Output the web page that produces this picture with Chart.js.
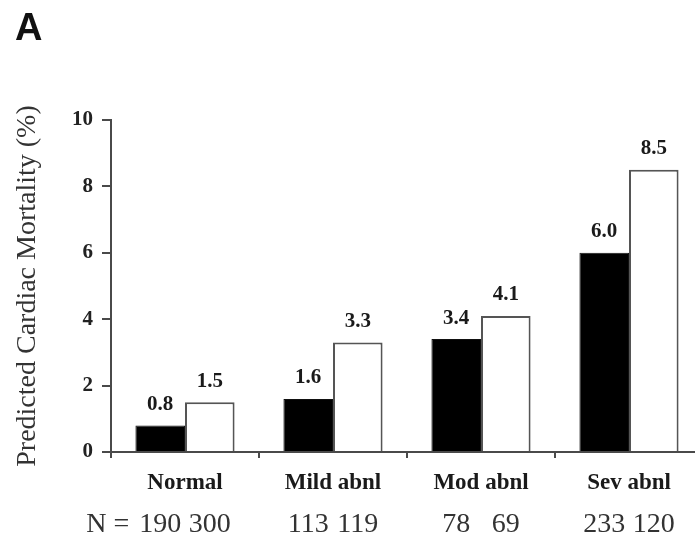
<!DOCTYPE html>
<html>
<head>
<meta charset="utf-8">
<script src="https://cdn.jsdelivr.net/npm/chart.js@4/dist/chart.umd.min.js"></script>
<style>
  html, body { margin: 0; padding: 0; overflow: hidden; background: #fff; width: 695px; height: 539px; }
  #wrap { position: absolute; left: 0; top: 0; width: 712px; height: 539px; }
</style>
</head>
<body>
<div id="wrap"><canvas id="chart"></canvas></div>
<script>
// Predicted cardiac mortality by perfusion category
const categories = ['Normal', 'Mild abnl', 'Mod abnl', 'Sev abnl'];
const blackValues = [0.8, 1.6, 3.4, 6.0];
const whiteValues = [1.5, 3.3, 4.1, 8.5];
const blackN = [190, 113, 78, 233];
const whiteN = [300, 119, 69, 120];
const yTickValues = [0, 2, 4, 6, 8, 10];
const panelLabel = 'A';
const yTitle = 'Predicted Cardiac Mortality (%)';

const SERIF = '"Liberation Serif", "Times New Roman", serif';
const AXIS = '#4a4a4a';

// Value labels over bars, the N row under the axis and the panel letter
const annotate = {
  id: 'annotate',
  afterDraw(chart) {
    const ctx = chart.ctx;
    ctx.save();
    ctx.textAlign = 'center';
    ctx.textBaseline = 'middle';
    ctx.fillStyle = '#1a1a1a';
    ctx.font = 'bold 21px ' + SERIF;
    chart.data.datasets.forEach((ds, i) => {
      chart.getDatasetMeta(i).data.forEach((bar, j) => {
        ctx.fillText(ds.data[j].toFixed(1), bar.x, bar.y - 21);
      });
    });

    ctx.font = '28px ' + SERIF;
    ctx.fillStyle = '#333';
    const rowY = 525;
    const nSets = [blackN, whiteN];
    nSets.forEach((arr, i) => {
      chart.getDatasetMeta(i).data.forEach((bar, j) => {
        ctx.fillText(String(arr[j]), bar.x, rowY);
      });
    });
    const first = chart.getDatasetMeta(0).data[0];
    const firstW = ctx.measureText(String(blackN[0])).width;
    ctx.textAlign = 'right';
    ctx.fillText('N =', first.x - firstW / 2 - 10, rowY);

    ctx.textAlign = 'left';
    ctx.textBaseline = 'alphabetic';
    ctx.fillStyle = '#111';
    ctx.font = 'bold 38px "Liberation Sans", Arial, sans-serif';
    ctx.fillText(panelLabel, 15, 40);
    ctx.restore();
  }
};

new Chart(document.getElementById('chart'), {
  type: 'bar',
  data: {
    labels: categories,
    datasets: [
      {
        data: blackValues,
        backgroundColor: '#000',
        borderColor: '#111',
        borderWidth: 1,
        categoryPercentage: 0.67,
        barPercentage: 1.0
      },
      {
        data: whiteValues,
        backgroundColor: '#fff',
        borderColor: '#555',
        borderWidth: 2,
        categoryPercentage: 0.67,
        barPercentage: 1.0
      }
    ]
  },
  options: {
    responsive: true,
    maintainAspectRatio: false,
    animation: false,
    events: [],
    layout: { padding: { top: 120, right: 9, bottom: 0, left: 0 } },
    plugins: {
      legend: { display: false },
      tooltip: { enabled: false }
    },
    scales: {
      x: {
        offset: true,
        grid: {
          offset: true,
          drawOnChartArea: false,
          drawTicks: true,
          tickLength: 6,
          color: AXIS,
          lineWidth: 2
        },
        border: { display: true, color: AXIS, width: 2 },
        ticks: {
          padding: 11,
          color: '#1a1a1a',
          font: { family: SERIF, size: 23, weight: 'bold' },
          maxRotation: 0,
          autoSkip: false
        },
        afterFit(scale) { scale.height = 87; }
      },
      y: {
        min: 0,
        max: 10,
        afterBuildTicks(scale) { scale.ticks = yTickValues.map(v => ({ value: v })); },
        grid: {
          drawOnChartArea: false,
          drawTicks: true,
          tickLength: 9,
          color: AXIS,
          lineWidth: 2
        },
        border: { display: true, color: AXIS, width: 2 },
        ticks: {
          padding: 9,
          color: '#222',
          font: { family: SERIF, size: 21, weight: 'bold' }
        },
        title: {
          display: true,
          text: yTitle,
          color: '#333',
          padding: { top: 11, bottom: 0 },
          font: { family: SERIF, size: 28, weight: 'normal' }
        },
        afterFit(scale) { scale.width = 111; }
      }
    }
  },
  plugins: [annotate]
});
</script>
</body>
</html>
